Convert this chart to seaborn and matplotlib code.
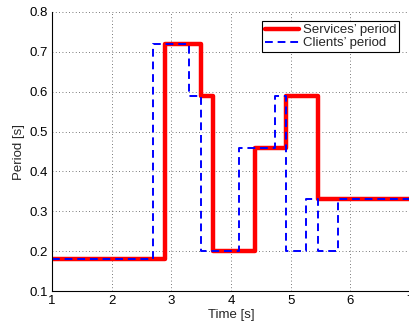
import matplotlib
matplotlib.use("Agg")
import matplotlib.pyplot as plt
import pandas as pd
import seaborn as sns

# step values
services_t = [1, 2.9, 3.5, 3.7, 4.4, 4.93, 5.45, 7]
services_p = [0.18, 0.72, 0.59, 0.20, 0.46, 0.59, 0.33, 0.33]
clients_t = [1, 2.7, 3.3, 3.5, 4.13, 4.73, 4.93, 5.25, 5.45, 5.79, 7]
clients_p = [0.18, 0.72, 0.59, 0.20, 0.46, 0.59, 0.20, 0.33, 0.20, 0.33, 0.33]

sns.set_style("white")
plt.rcParams['font.family'] = ['Liberation Sans', 'DejaVu Sans']
fs = 9.5

df_s = pd.DataFrame({"t": services_t, "p": services_p})
df_c = pd.DataFrame({"t": clients_t, "p": clients_p})

fig = plt.figure(figsize=(4.10, 3.27), dpi=100)
ax = fig.add_axes([52/410, 1 - 291/327, 358/410, 279/327])

sns.lineplot(data=df_s, x="t", y="p", drawstyle="steps-post", color="red",
             linewidth=3.2, ax=ax, label="Services\u2019 period")
sns.lineplot(data=df_c, x="t", y="p", drawstyle="steps-post", color="blue",
             linewidth=1.4, dashes=(4, 2.5), ax=ax, label="Clients\u2019 period")

ax.set_xlim(1, 7)
ax.set_ylim(0.1, 0.8)
ax.set_xticks([1, 2, 3, 4, 5, 6, 7])
ax.set_yticks([0.1, 0.2, 0.3, 0.4, 0.5, 0.6, 0.7, 0.8])
ax.grid(True, linestyle=(0, (1, 3)), color="black", linewidth=0.6, alpha=0.7)
ax.tick_params(direction="in", length=3, labelsize=fs, pad=3, colors="black")
for s in ["top", "right"]:
    ax.spines[s].set_visible(False)
for s in ["left", "bottom"]:
    ax.spines[s].set_color("black")
    ax.spines[s].set_linewidth(0.8)
ax.set_xlabel("Time [s]", fontsize=fs, labelpad=1)
ax.set_ylabel("Period [s]", fontsize=fs, labelpad=3)

leg = ax.legend(loc="upper right", fontsize=fs, frameon=True, fancybox=False,
                borderpad=0.2, handlelength=2.6, handletextpad=0.3,
                labelspacing=0.05, borderaxespad=0.4,
                bbox_to_anchor=(0.985, 0.985))
leg.get_frame().set_edgecolor("black")
leg.get_frame().set_linewidth(0.8)
leg.get_frame().set_alpha(1)

fig.savefig("out.png", dpi=100)
